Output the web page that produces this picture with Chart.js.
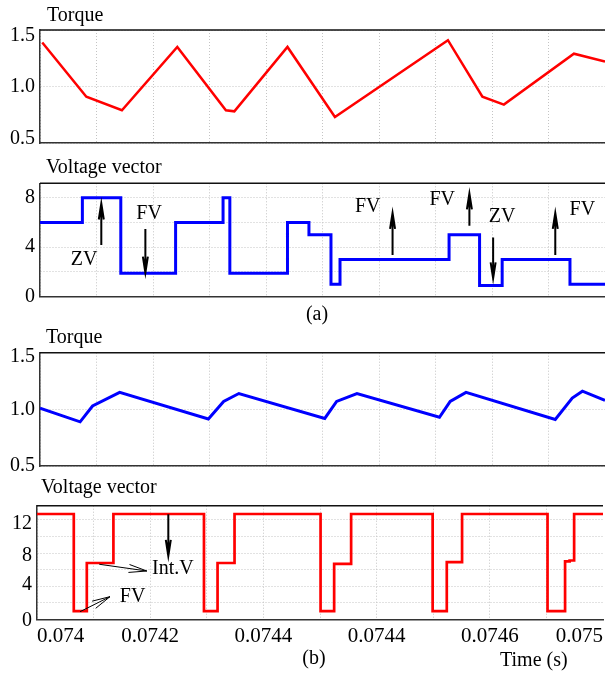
<!DOCTYPE html>
<html>
<head>
<meta charset="utf-8">
<script src="https://cdn.jsdelivr.net/npm/chart.js@4.4.1/dist/chart.umd.min.js"></script>
<style>
  html, body { margin: 0; padding: 0; background: #fff; }
  #page { position: relative; width: 605px; height: 675px; overflow: hidden;
          font-family: 'Liberation Serif', 'Times New Roman', serif; color: #000; }
  #page canvas { position: absolute; left: 0; }
  .lbl { position: absolute; font-size: 20px; line-height: 20px; white-space: nowrap; }
</style>
</head>
<body>
<div id="page">
  <canvas id="torqueA" width="605" height="160" style="top:0px"></canvas>
  <canvas id="vectorA" width="605" height="150" style="top:160px"></canvas>
  <canvas id="torqueB" width="605" height="160" style="top:320px"></canvas>
  <canvas id="vectorB" width="605" height="195" style="top:480px"></canvas>

  <div class="lbl" style="left:47px;top:4px">Torque</div>
  <div class="lbl" style="left:46px;top:156px">Voltage vector</div>
  <div class="lbl" style="left:297px;top:303px;width:40px;text-align:center">(a)</div>
  <div class="lbl" style="left:46px;top:326px">Torque</div>
  <div class="lbl" style="left:41px;top:476px">Voltage vector</div>
  <div class="lbl" style="left:294px;top:647px;width:40px;text-align:center">(b)</div>
  <div class="lbl" style="left:500px;top:649px">Time (s)</div>
</div>

<script>
const SERIF = "'Liberation Serif', 'Times New Roman', serif";
Chart.defaults.font.family = SERIF;
Chart.defaults.color = '#000';

// Time axis: ten grid divisions, labelled on the bottom panel only
const timeGrid   = [0, 1, 2, 3, 4, 5, 6, 7, 8, 9, 10];
const timeLabels = ['0.074', '', '0.0742', '', '0.0744', '', '0.0744', '', '0.0746', '', '0.075'];

// Value-axis ticks
const torqueTicks       = [0.5, 1.0, 1.5];
const torqueTickLabels  = ['0.5', '1.0', '1.5'];
const vectorATicks      = [0, 2, 4, 6, 8];
const vectorATickLabels = ['0', '', '4', '', '8'];
const vectorBTicks      = [0, 2, 4, 6, 8, 10, 12];
const vectorBTickLabels = ['0', '', '4', '', '8', '', '12'];

// (a) torque
const torqueA_t = [0.04, 0.82, 1.45, 2.43, 3.29, 3.44, 4.38, 5.22, 7.22, 7.83, 8.21, 9.45, 10];
const torqueA_v = [1.39, 0.91, 0.79, 1.35, 0.79, 0.78, 1.35, 0.73, 1.41, 0.91, 0.84, 1.29, 1.22];

// (a) applied voltage vector (switching instant, new vector)
const vectorA_t = [0, 0.75, 1.43, 2.40, 3.24, 3.36, 4.38, 4.76, 5.15, 5.31, 7.24, 7.78, 8.18, 9.38, 10];
const vectorA_v = [6, 8, 1.9, 6, 8, 1.9, 6, 5, 1, 3, 5, 0.9, 3, 1, 1];

// (b) torque
const torqueB_t = [0, 0.71, 0.93, 1.41, 2.98, 3.25, 3.52, 5.04, 5.25, 5.61, 7.07, 7.26, 7.54, 9.12, 9.42, 9.60, 10];
const torqueB_v = [1.01, 0.89, 1.03, 1.15, 0.915, 1.07, 1.14, 0.92, 1.07, 1.14, 0.93, 1.07, 1.15, 0.91, 1.10, 1.16, 1.08];

// (b) applied voltage vector (switching instant, new vector)
const vectorB_t = [0, 0.65, 0.88, 1.35, 2.95, 3.19, 3.49, 5.01, 5.25, 5.55, 6.99, 7.24, 7.51, 9.02, 9.33, 9.41, 9.49, 10];
const vectorB_v = [12.7, 1.0, 6.8, 12.7, 1.0, 6.8, 12.7, 1.0, 6.7, 12.7, 1.0, 6.9, 12.7, 1.0, 7.0, 7.1, 12.7, 12.7];

// Callouts, placed in axis units
const notesA = [
  { text: 'ZV', at: [0.78, 2.97], from: [1.085, 4.17], to: [1.085, 7.53] },
  { text: 'FV', at: [1.93, 6.73], from: [1.865, 5.46], to: [1.865, 1.94] },
  { text: 'FV', at: [5.80, 7.26], from: [6.24, 3.36],  to: [6.24, 6.77] },
  { text: 'FV', at: [7.12, 7.80], from: [7.60, 5.73],  to: [7.60, 8.34] },
  { text: 'ZV', at: [8.18, 6.45], from: [8.02, 4.79],  to: [8.02, 1.48] },
  { text: 'FV', at: [9.60, 7.03], from: [9.12, 3.36],  to: [9.12, 6.77] }
];
const notesB = [
  { text: null,    at: null,         from: [2.32, 12.67], to: [2.32, 7.65], bold: true },
  { text: 'Int.V', at: [2.40, 6.08], from: [1.10, 6.65],  to: [1.94, 5.84] },
  { text: 'FV',    at: [1.69, 2.75], from: [0.76, 0.94],  to: [1.29, 2.75] }
];

const pts = (ts, vs) => ts.map((t, i) => ({ x: t, y: vs[i] }));

// Top edge of the plot frame
const frameTop = {
  id: 'frameTop',
  beforeDatasetsDraw(chart) {
    const { ctx, chartArea: a } = chart;
    ctx.save();
    ctx.strokeStyle = '#111';
    ctx.lineWidth = 1.5;
    ctx.beginPath();
    ctx.moveTo(a.left, a.top);
    ctx.lineTo(a.right, a.top);
    ctx.stroke();
    ctx.restore();
  }
};

// Keeps the end labels of the value axis inside the frame
function labelNudge(shifts) {
  return {
    id: 'labelNudge',
    beforeDraw(chart) {
      const s = chart.scales.y;
      if (!shifts || !s || typeof s.getLabelItems !== 'function') return;
      try {
        const items = s.getLabelItems();
        if (items._nudged) return;
        items.forEach((it, i) => {
          const d = shifts[i] || 0;
          if (d && it.options && it.options.translation) it.options.translation[1] += d;
        });
        items._nudged = true;
      } catch (e) { /* leave labels where the scale put them */ }
    }
  };
}

function drawArrow(ctx, x0, y0, x1, y1, len, half, width) {
  const dx = x1 - x0, dy = y1 - y0, d = Math.hypot(dx, dy);
  const ux = dx / d, uy = dy / d, px = -uy, py = ux;
  ctx.lineWidth = width;
  ctx.beginPath();
  ctx.moveTo(x0, y0);
  ctx.lineTo(x1, y1);
  ctx.moveTo(x1 - ux * len + px * half, y1 - uy * len + py * half);
  ctx.lineTo(x1, y1);
  ctx.lineTo(x1 - ux * len - px * half, y1 - uy * len - py * half);
  ctx.stroke();
}

function notesPlugin(notes, thin) {
  return {
    id: 'notes',
    afterDatasetsDraw(chart) {
      const { ctx, scales: { x, y } } = chart;
      ctx.save();
      ctx.fillStyle = '#000';
      ctx.strokeStyle = '#000';
      ctx.font = '20px ' + SERIF;
      ctx.textAlign = 'center';
      ctx.textBaseline = 'middle';
      ctx.lineCap = 'butt';
      notes.forEach(n => {
        if (n.text) ctx.fillText(n.text, x.getPixelForValue(n.at[0]), y.getPixelForValue(n.at[1]));
        const w = (thin && !n.bold) ? 1 : 2;
        const len = (thin && !n.bold) ? 18 : 16;
        const half = (thin && !n.bold) ? 4 : 2.5;
        drawArrow(ctx,
          x.getPixelForValue(n.from[0]), y.getPixelForValue(n.from[1]),
          x.getPixelForValue(n.to[0]), y.getPixelForValue(n.to[1]),
          len, half, w);
      });
      ctx.restore();
    }
  };
}

const GRID = '#c4c4c4';
const EDGE = '#333';

function panel(id, o) {
  return new Chart(document.getElementById(id), {
    type: 'line',
    data: {
      datasets: [{
        data: pts(o.t, o.v),
        borderColor: o.color,
        borderWidth: o.width,
        pointRadius: 0,
        tension: 0,
        fill: false,
        stepped: o.stepped ? 'before' : false,
        borderJoinStyle: 'miter'
      }]
    },
    options: {
      responsive: false,
      animation: false,
      devicePixelRatio: 1,
      events: [],
      layout: { padding: { top: o.top, right: o.right, left: 0, bottom: 0 } },
      plugins: { legend: { display: false }, tooltip: { enabled: false }, title: { display: false } },
      scales: {
        x: {
          type: 'linear',
          min: 0, max: 10,
          afterBuildTicks: s => { s.ticks = timeGrid.map(v => ({ value: v })); },
          afterFit: s => { s.height = o.xHeight; s.paddingLeft = 0; s.paddingRight = 0; },
          ticks: {
            display: !!o.timeLabels,
            autoSkip: false, maxRotation: 0, minRotation: 0,
            align: 'inner', padding: 4,
            font: { family: SERIF, size: 21 }, color: '#000',
            callback: (v, i) => timeLabels[i]
          },
          grid: {
            drawTicks: false, lineWidth: 1,
            color: c => (c.tick && c.tick.value === 10) ? 'rgba(0,0,0,0)' : GRID
          },
          border: { display: true, color: EDGE, width: 1.5, dash: [1, 2] }
        },
        y: {
          type: 'linear',
          min: o.min, max: o.max,
          afterBuildTicks: s => { s.ticks = o.ticks.map(v => ({ value: v })); },
          afterFit: s => { s.width = o.left; s.paddingTop = 0; s.paddingBottom = 0; },
          ticks: {
            autoSkip: false, padding: 5,
            font: { family: SERIF, size: 20 }, color: '#000',
            callback: (v, i) => o.tickLabels[i]
          },
          grid: { drawTicks: false, lineWidth: 1, color: GRID },
          border: { display: true, color: EDGE, width: 1.5, dash: [1, 2] }
        }
      }
    },
    plugins: [frameTop, labelNudge(o.nudge), notesPlugin(o.notes || [], o.thinArrows)]
  });
}

panel('torqueA', {
  t: torqueA_t, v: torqueA_v, color: '#ff0000', width: 2.5,
  min: 0.5, max: 1.5, ticks: torqueTicks, tickLabels: torqueTickLabels,
  top: 30, right: 0, left: 40, xHeight: 17, nudge: [-4, 0, 6]
});

panel('vectorA', {
  t: vectorA_t, v: vectorA_v, color: '#0000ff', width: 3, stepped: true,
  min: 0, max: 9.16, ticks: vectorATicks, tickLabels: vectorATickLabels,
  top: 23.3, right: 0, left: 40, xHeight: 13.3,
  notes: notesA
});

panel('torqueB', {
  t: torqueB_t, v: torqueB_v, color: '#0000ff', width: 3,
  min: 0.5, max: 1.5, ticks: torqueTicks, tickLabels: torqueTickLabels,
  top: 32.7, right: 0, left: 40, xHeight: 14, nudge: [0, 0, 4]
});

panel('vectorB', {
  t: vectorB_t, v: vectorB_v, color: '#ff0000', width: 2.7, stepped: true,
  min: 0, max: 13.7, ticks: vectorBTicks, tickLabels: vectorBTickLabels,
  top: 25.7, right: 2, left: 37, xHeight: 55.5,
  timeLabels: true, notes: notesB, thinArrows: true, nudge: [1, 0, -2, 0, 3, 0, 4]
});
</script>
</body>
</html>
